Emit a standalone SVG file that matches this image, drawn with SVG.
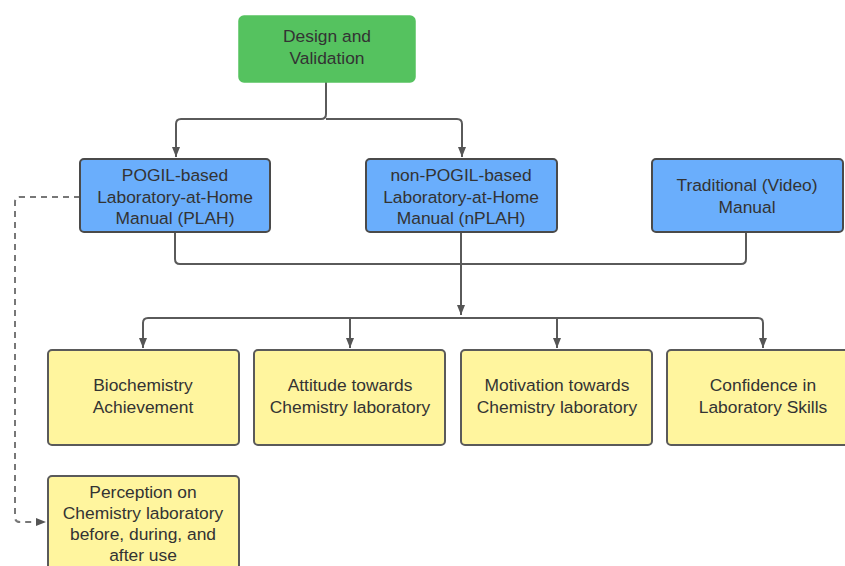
<svg xmlns="http://www.w3.org/2000/svg" width="845" height="566" viewBox="0 0 845 566">
<defs>
<marker id="ah" viewBox="0 0 10 10" refX="10" refY="5" markerWidth="10" markerHeight="10" markerUnits="userSpaceOnUse" orient="auto">
<path d="M0,1 L10,5 L0,9 Z" fill="#555"/>
</marker>
<style>
.t{font-family:"Liberation Sans",Arial,sans-serif;font-size:17.4px;fill:#333;text-anchor:middle}
.green{fill:#55c25f;stroke:#55c25f;stroke-width:1.5}
.blue{fill:#6aaefc;stroke:#4a4a4a;stroke-width:2}
.yellow{fill:#fff59e;stroke:#5a5a5a;stroke-width:2}
.c{fill:none;stroke:#5a5a5a;stroke-width:2}
.d{fill:none;stroke:#777;stroke-width:2;stroke-dasharray:6,5}
</style>
</defs>
<rect width="845" height="566" fill="#fff"/>
<g id="connectors">
<path class="c" d="M326,82 V114 Q326,119 321,119 H181 Q176,119 176,124 V157" marker-end="url(#ah)"/>
<path class="c" d="M326,119 H457 Q462,119 462,124 V157" marker-end="url(#ah)"/>
<path class="c" d="M175,232 V259 Q175,264 180,264 H741 Q746,264 746,259 V232"/>
<path class="c" d="M461,232 V315" marker-end="url(#ah)"/>
<path class="c" d="M461,318 H148 Q143,318 143,323 V348" marker-end="url(#ah)"/>
<path class="c" d="M350,318 V348" marker-end="url(#ah)"/>
<path class="c" d="M557,318 V348" marker-end="url(#ah)"/>
<path class="c" d="M461,318 H758 Q763,318 763,323 V348" marker-end="url(#ah)"/>
<path class="d" d="M80,197 H20 Q15,197 15,202 V517 Q15,522 20,522 H46" marker-end="url(#ah)"/>
</g>
<g id="design">
<rect class="green" x="239" y="16" width="176" height="66" rx="5"/>
<text class="t" x="327" y="42">Design and</text>
<text class="t" x="327" y="64">Validation</text>
</g>
<g id="plah">
<rect class="blue" x="80" y="159" width="190" height="73" rx="4"/>
<text class="t" x="175" y="181">POGIL-based</text>
<text class="t" x="175" y="203">Laboratory-at-Home</text>
<text class="t" x="175" y="224">Manual (PLAH)</text>
</g>
<g id="nplah">
<rect class="blue" x="366" y="159" width="191" height="73" rx="4"/>
<text class="t" x="461" y="181">non-POGIL-based</text>
<text class="t" x="461" y="203">Laboratory-at-Home</text>
<text class="t" x="461" y="224">Manual (nPLAH)</text>
</g>
<g id="traditional">
<rect class="blue" x="652" y="159" width="191" height="73" rx="4"/>
<text class="t" x="747" y="191">Traditional (Video)</text>
<text class="t" x="747" y="213">Manual</text>
</g>
<g id="biochem">
<rect class="yellow" x="48" y="350" width="191" height="95" rx="4"/>
<text class="t" x="143" y="391">Biochemistry</text>
<text class="t" x="143" y="413">Achievement</text>
</g>
<g id="attitude">
<rect class="yellow" x="254" y="350" width="191" height="95" rx="4"/>
<text class="t" x="350" y="391">Attitude towards</text>
<text class="t" x="350" y="413">Chemistry laboratory</text>
</g>
<g id="motivation">
<rect class="yellow" x="461" y="350" width="191" height="95" rx="4"/>
<text class="t" x="557" y="391">Motivation towards</text>
<text class="t" x="557" y="413">Chemistry laboratory</text>
</g>
<g id="confidence">
<rect class="yellow" x="667" y="350" width="191" height="95" rx="4"/>
<text class="t" x="763" y="391">Confidence in</text>
<text class="t" x="763" y="413">Laboratory Skills</text>
</g>
<g id="perception">
<rect class="yellow" x="48" y="476" width="191" height="100" rx="4"/>
<text class="t" x="143" y="498">Perception on</text>
<text class="t" x="143" y="519">Chemistry laboratory</text>
<text class="t" x="143" y="540">before, during, and</text>
<text class="t" x="143" y="561">after use</text>
</g>
</svg>
